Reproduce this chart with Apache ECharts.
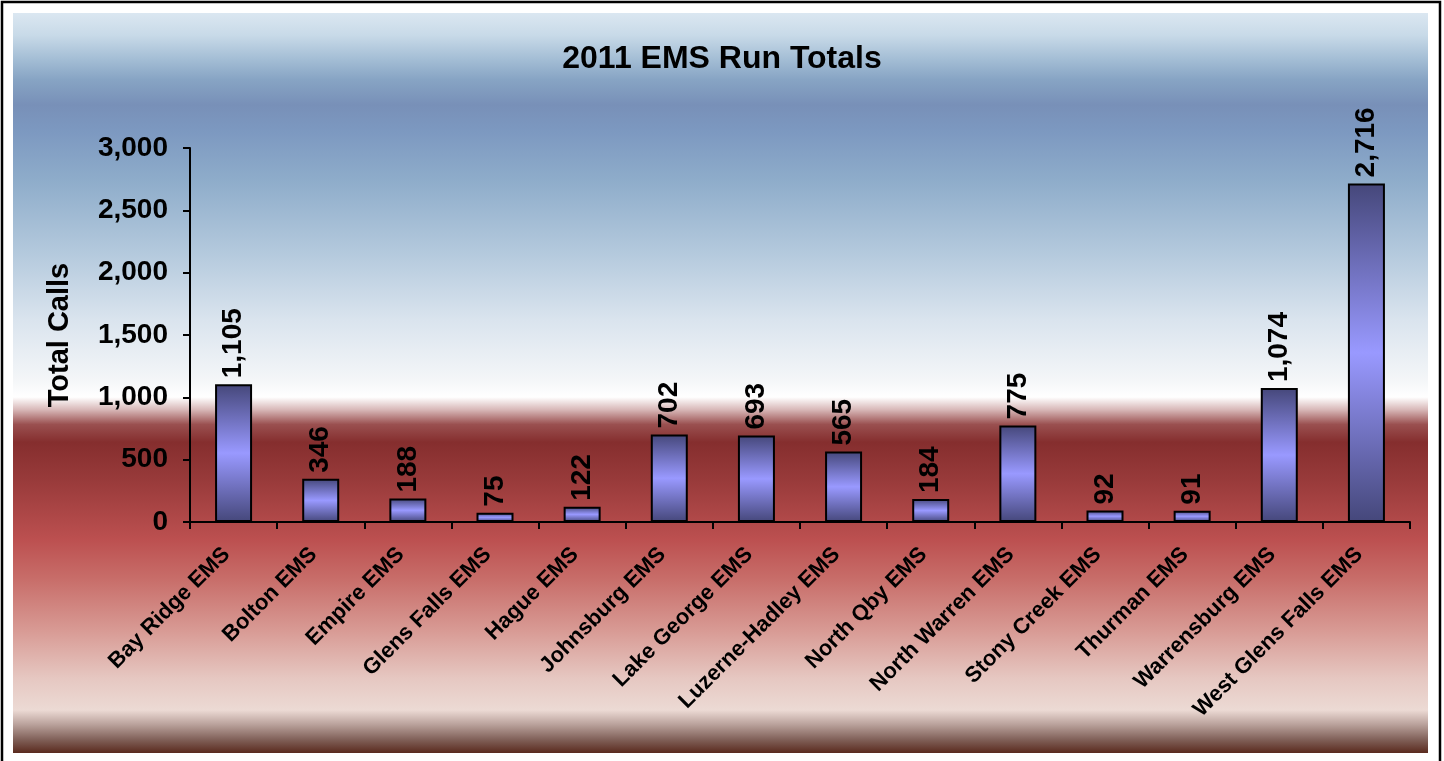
<!DOCTYPE html>
<html>
<head>
<meta charset="utf-8">
<script src="https://cdn.jsdelivr.net/npm/echarts@6/dist/echarts.min.js"></script>
<style>html,body{margin:0;padding:0;background:#fff;}#c{width:1444px;height:761px;}</style>
</head>
<body>
<div id="c"></div>
<script>
const categories = ['Bay Ridge EMS','Bolton EMS','Empire EMS','Glens Falls EMS','Hague EMS','Johnsburg EMS','Lake George EMS','Luzerne-Hadley EMS','North Qby EMS','North Warren EMS','Stony Creek EMS','Thurman EMS','Warrensburg EMS','West Glens Falls EMS'];
const totalCalls = [1105,346,188,75,122,702,693,565,184,775,92,91,1074,2716];
const yTicks = [0,500,1000,1500,2000,2500,3000];

const FONT = '"Liberation Sans", Arial, sans-serif';
const chart = echarts.init(document.getElementById('c'));
const fmt = v => Number(v).toLocaleString('en-US');

chart.setOption({
  animation: false,
  backgroundColor: '#ffffff',
  graphic: [
    { type: 'rect', z: -10, shape: { x: 2, y: 2, width: 1438, height: 800 },
      style: { fill: '#ffffff', stroke: '#000000', lineWidth: 2.5 } },
    { type: 'rect', z: -9, shape: { x: 13, y: 13, width: 1415, height: 740 },
      style: { fill: new echarts.graphic.LinearGradient(0, 0, 0, 1, [
        { offset: 0, color: '#dbe7f1' },
        { offset: 0.03, color: '#c8dae8' },
        { offset: 0.064, color: '#a2bcd4' },
        { offset: 0.09, color: '#87a4c4' },
        { offset: 0.124, color: '#7890b8' },
        { offset: 0.158, color: '#7c98c0' },
        { offset: 0.225, color: '#8eacca' },
        { offset: 0.32, color: '#b2c8dc' },
        { offset: 0.415, color: '#dae4ee' },
        { offset: 0.496, color: '#f4f6f8' },
        { offset: 0.519, color: '#ffffff' },
        { offset: 0.536, color: '#d8b8b8' },
        { offset: 0.556, color: '#9a5050' },
        { offset: 0.58, color: '#852e2e' },
        { offset: 0.63, color: '#983a3a' },
        { offset: 0.712, color: '#bc5050' },
        { offset: 0.766, color: '#c86e6a' },
        { offset: 0.834, color: '#d89a94' },
        { offset: 0.9, color: '#e6c8c2' },
        { offset: 0.942, color: '#ecdad4' },
        { offset: 0.962, color: '#b8a09a' },
        { offset: 0.982, color: '#806058' },
        { offset: 1, color: '#5a2a1e' }
      ]) } }
  ],
  title: {
    text: '2011 EMS Run Totals',
    left: 'center', top: 38,
    textStyle: { fontFamily: FONT, fontWeight: 'bold', fontSize: 32, color: '#000' }
  },
  grid: { left: 190, right: 34, top: 148, bottom: 239, containLabel: false },
  xAxis: {
    type: 'category',
    data: categories,
    axisLine: { lineStyle: { color: '#000', width: 2 } },
    axisTick: { show: true, interval: 0, length: 7, lineStyle: { color: '#000', width: 2 } },
    axisLabel: { interval: 0, rotate: 45, margin: 22, padding: [0, 10, 0, 0], fontFamily: FONT, fontWeight: 'bold', fontSize: 22, color: '#000' }
  },
  yAxis: {
    type: 'value',
    min: 0, max: 3000, interval: 500,
    name: 'Total Calls',
    nameLocation: 'middle', nameRotate: 90, nameGap: 116,
    nameTextStyle: { fontFamily: FONT, fontWeight: 'bold', fontSize: 29, color: '#000' },
    axisLine: { show: true, lineStyle: { color: '#000', width: 2 } },
    axisTick: { show: true, length: 7, lineStyle: { color: '#000', width: 2 } },
    splitLine: { show: false },
    axisLabel: { margin: 22, fontFamily: FONT, fontWeight: 'bold', fontSize: 28, color: '#000',
      formatter: v => yTicks.includes(v) ? fmt(v) : '' }
  },
  series: [{
    type: 'bar',
    data: totalCalls,
    barWidth: 37,
    itemStyle: {
      borderColor: '#000', borderWidth: 2,
      color: new echarts.graphic.LinearGradient(0, 0, 0, 1, [
        { offset: 0, color: '#45477a' },
        { offset: 0.5, color: '#9999ff' },
        { offset: 1, color: '#45477a' }
      ])
    },
    label: {
      show: true, position: 'top', rotate: 90, align: 'left', verticalAlign: 'middle', distance: 6,
      fontFamily: FONT, fontWeight: 'bold', fontSize: 28, color: '#000',
      formatter: p => fmt(p.value)
    }
  }]
});
</script>
</body>
</html>
